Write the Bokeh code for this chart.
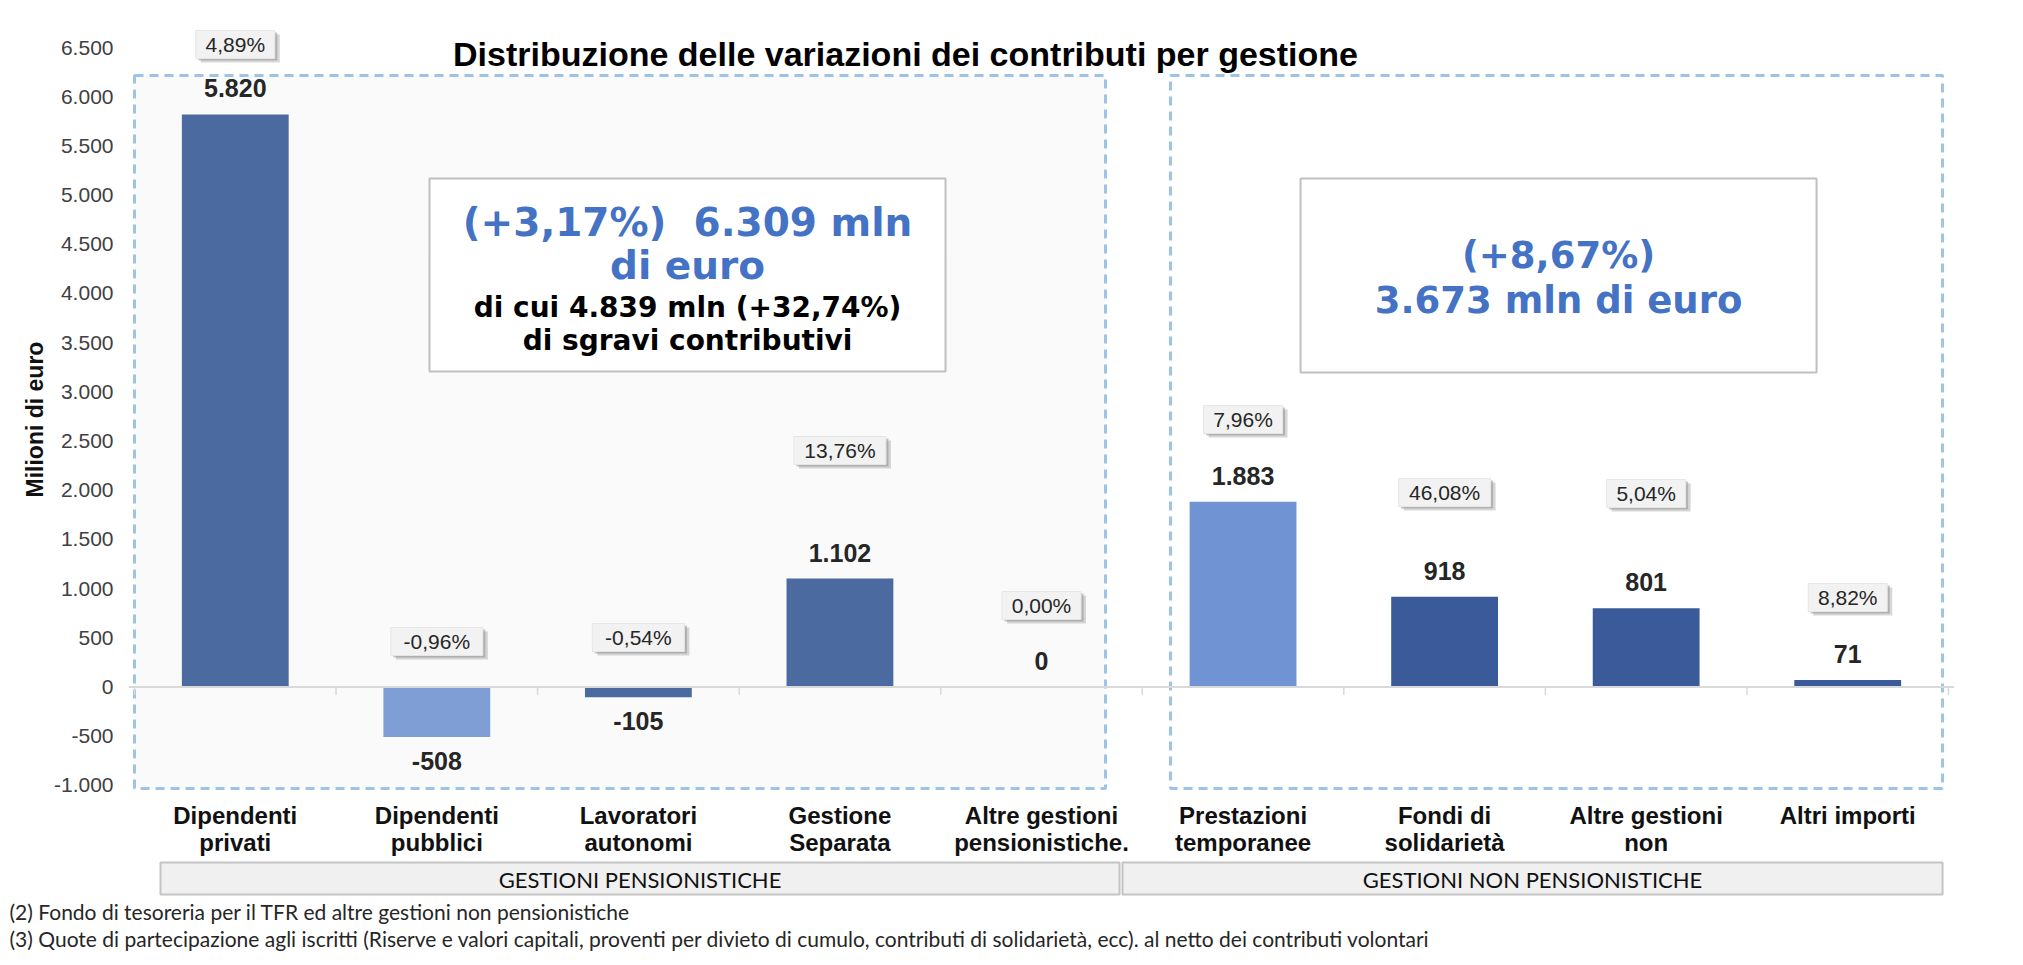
from bokeh.plotting import figure
from bokeh.models import ColumnDataSource, FactorRange, Range1d, FixedTicker, Span, Title
from bokeh.transform import dodge
from bokeh.core.properties import value
from bokeh.embed import file_html
from bokeh.resources import INLINE

# ---------------- data ----------------
categories = ["Dipendenti privati", "Dipendenti pubblici", "Lavoratori autonomi",
              "Gestione Separata", "Altre gestioni pensionistiche.",
              "Prestazioni temporanee", "Fondi di solidarietà",
              "Altre gestioni non", "Altri importi"]
category_lines = [("Dipendenti", "privati"), ("Dipendenti", "pubblici"),
                  ("Lavoratori", "autonomi"), ("Gestione", "Separata"),
                  ("Altre gestioni", "pensionistiche."), ("Prestazioni", "temporanee"),
                  ("Fondi di", "solidarietà"), ("Altre gestioni", "non"),
                  ("Altri importi", "")]
values = [5820, -508, -105, 1102, 0, 1883, 918, 801, 71]
pct_labels = ["4,89%", "-0,96%", "-0,54%", "13,76%", "0,00%",
              "7,96%", "46,08%", "5,04%", "8,82%"]
groups = ["GESTIONI PENSIONISTICHE", "GESTIONI NON PENSIONISTICHE"]
y_ticks = list(range(-1000, 6501, 500))
chart_title = "Distribuzione delle variazioni dei contributi per gestione"
y_title = "Milioni di euro"
summary_left = ["(+3,17%)  6.309 mln", "di euro",
                "di cui 4.839 mln (+32,74%)", "di sgravi contributivi"]
summary_right = ["(+8,67%)", "3.673 mln di euro"]
footnotes = ["(2)  Fondo di tesoreria per il TFR ed altre gestioni non pensionistiche",
             "(3) Quote di partecipazione agli iscritti (Riserve e valori capitali, proventi per divieto di cumulo, contributi di solidarietà, ecc). al netto dei contributi volontari"]

# ---------------- styles ----------------
bar_colors = ["#4a6aa0", "#7f9ed5", "#4a6aa0", "#4a6aa0", "#4a6aa0",
              "#7094d3", "#3a5a99", "#3a5a99", "#3a5a99"]
BLUE_TXT = "#4472c4"
DASH_COL = "#9dc3e6"

# ---------------- layout helpers (page pixel -> data units) ----------------
PX_PER_UNIT = 0.09838          # vertical pixels per euro-million
Y0 = 686.5                     # page y of the zero line
def vy(page_y):
    return (Y0 - page_y) / PX_PER_UNIT
X0, CW = 134.0, 201.55         # page x of first category edge, category width
def ux(page_x):
    return (page_x - X0) / CW

W, H = 2020, 962
FRAME_L, FRAME_R, FRAME_T, FRAME_B = 128, 1954, 8, 896
PAD = (X0 - FRAME_L) / CW
p = figure(width=W, height=H,
           x_range=FactorRange(factors=categories, range_padding=PAD,
                               range_padding_units="absolute"),
           y_range=Range1d(vy(FRAME_B), vy(FRAME_T)),
           output_backend="svg", toolbar_location=None, x_axis_location=None,
           min_border_left=FRAME_L, min_border_right=W - FRAME_R,
           min_border_top=FRAME_T, min_border_bottom=H - FRAME_B)
p.outline_line_color = None
p.grid.visible = False
p.background_fill_color = "white"
p.border_fill_color = "white"

# y axis
ya = p.yaxis[0]
ya.ticker = FixedTicker(ticks=y_ticks)
ya.major_label_overrides = {t: f"{t:,}".replace(",", ".") for t in y_ticks}
ya.major_label_text_font = "Liberation Sans"
ya.major_label_text_font_size = "21px"
ya.major_label_text_color = "#404040"
ya.axis_line_color = None
ya.major_tick_line_color = None
ya.minor_tick_line_color = None
ya.major_tick_out = 0
ya.major_tick_in = 0
ya.major_label_standoff = 15
p.add_layout(Title(text=y_title, align="left", offset=FRAME_B - 497,
                   text_font="Liberation Sans", text_font_size="23px",
                   text_font_style="bold", text_color="#111111", standoff=6), "left")

# dashed group frames
p.quad(left=[ux(134)], right=[ux(1105)], top=[vy(75)], bottom=[vy(788)],
       fill_color="#fafafa", line_color=DASH_COL, line_width=3, line_dash="9 6")
p.quad(left=[ux(1170)], right=[ux(1942)], top=[vy(75)], bottom=[vy(788)],
       fill_color=None, line_color=DASH_COL, line_width=3, line_dash="9 6")

# zero line and boundary ticks
p.add_layout(Span(location=0, dimension="width", line_color="#d9d9d9", line_width=2))
bounds = list(range(len(categories) + 1))
p.segment(x0=bounds, y0=[0] * len(bounds), x1=bounds, y1=[vy(Y0 + 8)] * len(bounds),
          line_color="#d9d9d9", line_width=1.5)

# bars
src = ColumnDataSource(dict(
    cat=categories, val=values, color=bar_colors,
    vlab=[f"{v:,}".replace(",", ".") for v in values],
    voff=[-26 if v >= 0 else 24 for v in values],
))
p.vbar(x="cat", top="val", bottom=0, width=0.53, fill_color="color",
       line_color=None, source=src)
p.text(x="cat", y="val", text="vlab", y_offset="voff", source=src,
       text_align="center", text_baseline="middle",
       text_font=value("Liberation Sans"), text_font_style="bold",
       text_font_size="25px", text_color="#262626")

# percentage callouts (layout y positions)
pct_y = [vy(44), vy(641), vy(637), vy(450), vy(605), vy(419), vy(492), vy(493), vy(597)]
psrc = ColumnDataSource(dict(
    cat=categories, txt=pct_labels, y=pct_y,
    ys1=[y - 2 / PX_PER_UNIT for y in pct_y],
    ys2=[y - 4 / PX_PER_UNIT for y in pct_y],
    w=[13 * len(t) + 14 for t in pct_labels],
))
p.rect(x=dodge("cat", 5 / CW, range=p.x_range), y="ys2", width="w", height=28,
       width_units="screen", height_units="screen", fill_color="#8c8c8c",
       fill_alpha=0.35, line_color=None, source=psrc)
p.rect(x=dodge("cat", 2.5 / CW, range=p.x_range), y="ys1", width="w", height=28,
       width_units="screen", height_units="screen", fill_color="#808080",
       fill_alpha=0.45, line_color=None, source=psrc)
p.rect(x="cat", y="y", width="w", height=28, width_units="screen",
       height_units="screen", fill_color="#f2f2f2", line_color="#e6e6e6",
       line_width=1, source=psrc)
p.text(x="cat", y="y", text="txt", source=psrc, text_align="center",
       text_baseline="middle", text_font=value("Liberation Sans"),
       text_font_size="21px", text_color="#262626")

# summary boxes
p.quad(left=[ux(429)], right=[ux(945)], top=[vy(178)], bottom=[vy(371)],
       fill_color="white", line_color="#bfbfbf", line_width=2)
p.quad(left=[ux(1300)], right=[ux(1816)], top=[vy(178)], bottom=[vy(372)],
       fill_color="white", line_color="#bfbfbf", line_width=2)
shown_left = [s.replace("  ", " \u00a0") for s in summary_left]
cl = ux(687)
p.text(x=[cl, cl], y=[vy(222), vy(265)], text=shown_left[:2],
       text_align="center", text_baseline="middle",
       text_font=value("DejaVu Sans"), text_font_style="bold",
       text_font_size="39px", text_color=BLUE_TXT)
p.text(x=[cl, cl], y=[vy(307), vy(340)], text=shown_left[2:],
       text_align="center", text_baseline="middle",
       text_font=value("DejaVu Sans"), text_font_style="bold",
       text_font_size="28px", text_color="#000000")
cr = ux(1558)
p.text(x=[cr, cr], y=[vy(255), vy(300)], text=summary_right,
       text_align="center", text_baseline="middle",
       text_font=value("DejaVu Sans"), text_font_style="bold",
       text_font_size="37px", text_color=BLUE_TXT)

# title
p.text(x=[ux(905)], y=[vy(53)], text=[chart_title], text_align="center",
       text_baseline="middle", text_font=value("Liberation Sans"),
       text_font_style="bold", text_font_size="34px", text_color="#000000")

# category labels
p.text(x=categories, y=[vy(815)] * len(categories), text=[a for a, b in category_lines],
       text_align="center", text_baseline="middle", text_font=value("Liberation Sans"),
       text_font_style="bold", text_font_size="24px", text_color="#111111")
p.text(x=categories, y=[vy(842)] * len(categories), text=[b for a, b in category_lines],
       text_align="center", text_baseline="middle", text_font=value("Liberation Sans"),
       text_font_style="bold", text_font_size="24px", text_color="#111111")

# group boxes
gl = [ux(160), ux(1122)]
gr = [ux(1119), ux(1942)]
p.quad(left=gl, right=gr, top=[vy(862)] * 2, bottom=[vy(894)] * 2,
       fill_color="#f0f0f0", line_color="#c4c4c4", line_width=2)
p.text(x=[(a + b) / 2 for a, b in zip(gl, gr)], y=[vy(879)] * 2, text=groups,
       text_align="center", text_baseline="middle", text_font=value("Lato"),
       text_font_size="22px", text_color="#111111")

# footnotes
for fn in footnotes:
    t = Title(text=fn, align="left", offset=9 - FRAME_L, text_font="Lato",
              text_font_size="21px", text_font_style="normal",
              text_color="#262626", standoff=0)
    p.add_layout(t, "below")

open("out.html", "w").write(file_html(p, INLINE))
